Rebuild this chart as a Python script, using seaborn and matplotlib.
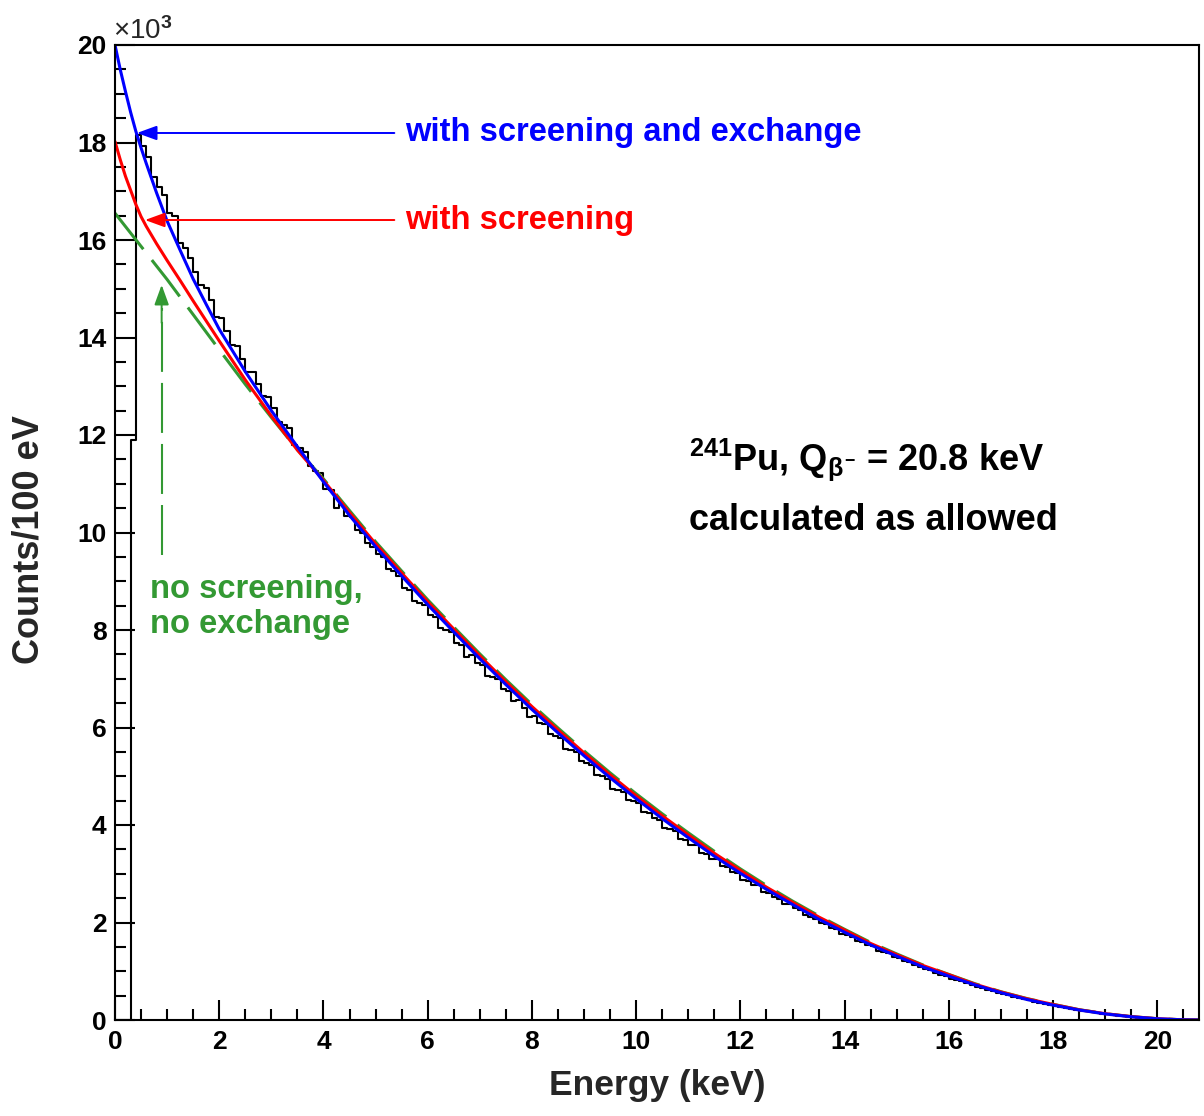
import numpy as np
import pandas as pd
import matplotlib
matplotlib.use('Agg')
import matplotlib.pyplot as plt
from matplotlib.ticker import MultipleLocator, FuncFormatter
import seaborn as sns

sns.set_style('ticks')
plt.rcParams['font.family'] = ['Liberation Sans', 'DejaVu Sans']
plt.rcParams['font.weight'] = 'bold'
plt.rcParams['axes.labelweight'] = 'bold'
plt.rcParams['mathtext.fontset'] = 'custom'
plt.rcParams['mathtext.rm'] = 'Liberation Sans:bold'
plt.rcParams['mathtext.bf'] = 'Liberation Sans:bold'
plt.rcParams['mathtext.it'] = 'Liberation Sans'
plt.rcParams['mathtext.default'] = 'rm'

BLUE = '#0000ff'
RED = '#ff0000'
GREEN = '#339933'

# --- data (counts per 100 eV) ---
curve_energy = [0, 0.1, 0.2, 0.3, 0.4, 0.5, 0.6, 0.8, 1.0, 1.25, 1.5, 1.75, 2.0,
                2.5, 3.0, 3.5, 4.0, 4.5, 5.0, 5.5, 6.0, 6.5, 7.0, 7.5, 8.0, 8.5,
                9.0, 9.5, 10.0, 10.5, 11.0, 11.5, 12.0, 12.5, 13.0, 13.5, 14.0,
                14.5, 15.0, 15.5, 16.0, 16.5, 17.0, 17.5, 18.0, 18.5, 19.0, 19.5,
                20.0, 20.5, 20.8]
screen_exchange = [20000, 19500, 19050, 18620, 18230, 17890, 17570, 16960, 16390,
                   15790, 15200, 14680, 14170, 13300, 12500, 11760, 11040, 10350,
                   9710, 9110, 8520, 7960, 7410, 6880, 6370, 5890, 5420, 4970, 4540,
                   4130, 3740, 3360, 3010, 2680, 2370, 2070, 1800, 1540, 1310, 1090,
                   900, 720, 560, 420, 305, 205, 125, 66, 25, 4, 0]
screen_only = [18020, 17650, 17310, 17020, 16730, 16480, 16280, 15920, 15580, 15170,
               14750, 14340, 13930, 13130, 12390, 11690, 11070, 10410, 9770, 9170,
               8580, 8020, 7470, 6940, 6430, 5950, 5480, 5030, 4600, 4190, 3800,
               3420, 3070, 2725, 2415, 2115, 1845, 1570, 1340, 1120, 930, 735, 575,
               435, 320, 210, 130, 70, 27, 4, 0]

bare_energy = [0, 0.5, 1.0, 1.5, 2.0, 2.5, 3.0, 3.5, 4.0, 4.5, 5.0, 5.5, 6.0, 6.5,
               7.0, 7.5, 8.0, 8.5, 9.0, 9.5, 10.0, 10.5, 11.0, 11.5, 12.0, 12.5,
               13.0, 13.5, 14.0, 14.5, 15.0, 15.5, 16.0, 16.5, 17.0, 17.5, 18.0,
               18.5, 19.0, 19.5, 20.0, 20.5, 20.8]
no_screen = [16550, 15870, 15190, 14470, 13750, 13040, 12360, 11700, 11100, 10450,
             9810, 9210, 8620, 8060, 7510, 6980, 6470, 5990, 5520, 5070, 4640, 4230,
             3840, 3460, 3100, 2760, 2440, 2140, 1860, 1590, 1355, 1130, 935, 745,
             580, 440, 322, 212, 130, 70, 27, 4, 0]

# measured spectrum, 0.1 keV bins from 0 to 20.8 keV
hist_counts = [
    0, 0, 0, 11900, 18150, 17930, 17710, 17300, 17090, 16920,
    16550, 16500, 15940, 15830, 15630, 15340, 15070, 15010, 14760, 14420,
    14390, 14130, 13850, 13830, 13560, 13300, 13290, 13040, 12790, 12780,
    12560, 12270, 12210, 12140, 11790, 11740, 11660, 11370, 11270, 11220,
    10900, 10870, 10510, 10580, 10330, 10320, 10050, 9990, 9780, 9710,
    9560, 9490, 9260, 9210, 9110, 8870, 8830, 8590, 8560, 8510,
    8310, 8260, 8040, 8000, 7950, 7730, 7690, 7450, 7490, 7320,
    7290, 7060, 7030, 7000, 6780, 6740, 6550, 6570, 6400, 6220,
    6240, 6090, 6080, 5860, 5830, 5780, 5550, 5540, 5490, 5310,
    5280, 5240, 5030, 5000, 4950, 4740, 4720, 4680, 4520, 4490,
    4450, 4260, 4250, 4140, 4110, 3930, 3920, 3880, 3720, 3700,
    3590, 3580, 3430, 3410, 3310, 3300, 3150, 3130, 3040, 3020,
    2880, 2860, 2770, 2760, 2620, 2610, 2520, 2490, 2380, 2370,
    2290, 2260, 2150, 2120, 2080, 1990, 1960, 1880, 1860, 1770,
    1740, 1710, 1620, 1600, 1530, 1510, 1420, 1390, 1370, 1290,
    1270, 1210, 1190, 1120, 1090, 1040, 1020, 960, 930, 905,
    850, 820, 795, 750, 725, 685, 660, 620, 600, 560,
    537, 508, 475, 458, 426, 406, 376, 357, 330, 311,
    289, 268, 250, 228, 212, 192, 177, 160, 146, 130,
    117, 104, 91, 81, 70, 61, 51, 43, 35, 28,
    22, 16, 12, 8, 5, 2, 1, 0,
]
n_bins = len(hist_counts)
bin_centers = (np.arange(n_bins) + 0.5) * 0.1
spectrum = pd.DataFrame({'energy': bin_centers, 'counts': hist_counts})

# --- figure ---
fig = plt.figure(figsize=(12.04, 11.16), dpi=100)
ax = fig.add_axes([115 / 1204, 1 - 1020 / 1116, 1084 / 1204, 975 / 1116])

sns.histplot(data=spectrum, x='energy', weights='counts', bins=n_bins,
             binrange=(0, 20.8), element='step', fill=False, color='black',
             lw=1.5, ax=ax)
sns.lineplot(x=bare_energy, y=no_screen, color=GREEN, lw=2.2,
             linestyle=(0, (15, 4.5)), sort=False, estimator=None, ax=ax)
sns.lineplot(x=curve_energy, y=screen_only, color=RED, lw=2.2,
             sort=False, estimator=None, ax=ax)
sns.lineplot(x=curve_energy, y=screen_exchange, color=BLUE, lw=2.2,
             sort=False, estimator=None, ax=ax)

ax.set_xlim(0, 20.8)
ax.set_ylim(0, 20000)
ax.xaxis.set_major_locator(MultipleLocator(2))
ax.xaxis.set_minor_locator(MultipleLocator(0.5))
ax.yaxis.set_major_locator(MultipleLocator(2000))
ax.yaxis.set_minor_locator(MultipleLocator(500))
ax.yaxis.set_major_formatter(FuncFormatter(lambda v, p: f'{v / 1000:.0f}'))
ax.tick_params(which='both', direction='in', top=False, right=False,
               bottom=True, left=True, width=1.5, colors='black')
ax.tick_params(which='major', length=14.5, labelsize=19)
ax.tick_params(which='minor', length=8)
ax.tick_params(axis='y', pad=6)
ax.tick_params(axis='x', pad=7)
for s in ax.spines.values():
    s.set_visible(True)
    s.set_linewidth(1.5)
    s.set_color('black')

ax.set_xlabel('Energy (keV)', fontsize=25.5, va='center')
ax.xaxis.set_label_coords(0.5, -0.0667)
ax.set_ylabel('Counts/100 eV', fontsize=26, va='center', ha='center')
ax.yaxis.set_label_coords(-0.0793, 0.493)

ax.text(-0.0018, 1.006, '×10$^{\\mathit{3}}$', transform=ax.transAxes,
        fontsize=20, fontweight='normal', ha='left', va='baseline')

# annotations
head = '-|>,head_length=0.55,head_width=0.2'
ax.annotate('', xy=(0.42, 18195), xytext=(5.36, 18195),
            arrowprops=dict(arrowstyle=head, color=BLUE, lw=1.4,
                            mutation_scale=22, shrinkA=0, shrinkB=0))
ax.annotate('', xy=(0.575, 16410), xytext=(5.36, 16410),
            arrowprops=dict(arrowstyle=head, color=RED, lw=1.4,
                            mutation_scale=22, shrinkA=0, shrinkB=0))
ax.plot([0.895, 0.895], [9540, 14600], color=GREEN, lw=1.5,
        linestyle=(0, (24, 5.3)))
ax.annotate('', xy=(0.895, 15080), xytext=(0.895, 14300),
            arrowprops=dict(arrowstyle=head, color=GREEN, lw=1.4,
                            mutation_scale=22, shrinkA=0, shrinkB=0))

ax.text(5.56, 18195, 'with screening and exchange', color=BLUE, fontsize=23.6,
        ha='left', va='center')
ax.text(5.56, 16410, 'with screening', color=RED, fontsize=23.6,
        ha='left', va='center')
ax.text(0.67, 8472, 'no screening,\nno exchange', color=GREEN, fontsize=23.6,
        ha='left', va='center', linespacing=1.2)
ax.text(11.02, 11282, r'$^{241}$Pu, Q$_{\mathit{\beta}^{-}}$ = 20.8 keV',
        color='black', fontsize=26, ha='left', va='baseline')
ax.text(11.02, 10051, 'calculated as allowed', color='black', fontsize=26,
        ha='left', va='baseline')

fig.savefig('out.png', dpi=100, facecolor='white')
